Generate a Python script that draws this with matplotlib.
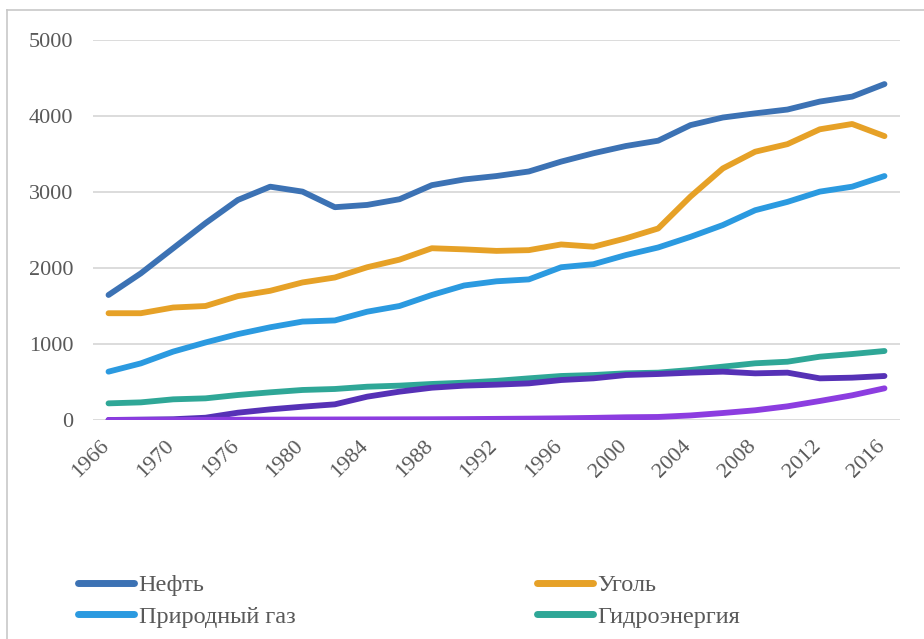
import matplotlib
matplotlib.use("Agg")
import matplotlib.pyplot as plt
from matplotlib.lines import Line2D
from matplotlib.transforms import ScaledTranslation

categories = ['1966', '1968', '1970', '1973', '1976', '1978', '1980', '1982', '1984',
              '1986', '1988', '1990', '1992', '1994', '1996', '1998', '2000', '2002',
              '2004', '2006', '2008', '2010', '2012', '2014', '2016']

oil = [1645, 1930, 2260, 2590, 2895, 3070, 3005, 2800, 2830, 2905, 3090, 3165, 3210,
       3270, 3400, 3510, 3605, 3675, 3880, 3980, 4035, 4085, 4190, 4255, 4420]
coal = [1405, 1405, 1480, 1500, 1630, 1700, 1810, 1875, 2010, 2110, 2260, 2245, 2225,
        2235, 2310, 2280, 2390, 2520, 2940, 3310, 3530, 3630, 3825, 3895, 3735]
gas = [636, 745, 900, 1020, 1130, 1220, 1295, 1310, 1425, 1500, 1645, 1770, 1825,
       1850, 2010, 2050, 2170, 2270, 2410, 2565, 2760, 2870, 3005, 3070, 3210]
hydro = [219, 232, 272, 285, 329, 364, 395, 408, 438, 452, 474, 491, 515,
         548, 579, 592, 614, 623, 658, 702, 746, 767, 833, 868, 908]
nuclear = [0, 5, 10, 30, 96, 140, 175, 206, 307, 373, 425, 452, 465,
           482, 526, 548, 592, 605, 623, 636, 614, 623, 548, 557, 579]
renew = [0, 0, 0, 2, 4, 5, 6, 7, 8, 9, 10, 12, 15,
         18, 22, 28, 36, 40, 60, 92, 128, 180, 250, 325, 417]

series = [
    ('Нефть', oil, '#3c72b4'),
    ('Уголь', coal, '#e6a127'),
    ('Природный газ', gas, '#2b9ae0'),
    ('Гидроэнергия', hydro, '#2fa797'),
    ('Атомная энергия', nuclear, '#5631b6'),
    ('Возобновляемые', renew, '#8c3de0'),
]

plt.rcParams['font.family'] = ['Liberation Serif', 'DejaVu Serif']

W, H = 924, 639
fig = plt.figure(figsize=(W / 100, H / 100), dpi=100)
ax = fig.add_axes([93 / W, 1 - 420 / H, (900 - 93) / W, (420 - 40) / H])

x = list(range(len(categories)))
for name, vals, col in series:
    ax.plot(x, vals, color=col, lw=4.2, solid_capstyle='round', solid_joinstyle='round',
            label=name, zorder=3)

ax.set_xlim(-0.48, len(categories) - 0.52)
ax.set_ylim(0, 5000)
ax.set_yticks(range(0, 5001, 1000))
ax.grid(axis='y', color='#d9d9d9', lw=1.3, zorder=0)
for s in ax.spines.values():
    s.set_visible(False)
ax.tick_params(axis='both', length=0, labelsize=16, labelcolor='#595959')
ax.tick_params(axis='y', pad=14)
ax.set_xticks(x[::2])
ax.set_xticklabels(categories[::2], rotation=45, ha='right', va='top')
ax.tick_params(axis='x', pad=12)
off = ScaledTranslation(5 / 100, 0, fig.dpi_scale_trans)
for lbl in ax.get_xticklabels():
    lbl.set_transform(lbl.get_transform() + off)

# figure frame (top and left)
fig.add_artist(Line2D([7 / W, 7 / W], [0, 1 - 10 / H], transform=fig.transFigure,
                      color='#c8c8c8', lw=1.2))
fig.add_artist(Line2D([7 / W, 1], [1 - 10 / H, 1 - 10 / H], transform=fig.transFigure,
                      color='#c8c8c8', lw=1.2))

handles = {name: Line2D([], [], color=col, lw=5, solid_capstyle='round')
           for name, vals, col in series}

def make_leg(names, xpx):
    leg = fig.legend([handles[n] for n in names], names, loc='upper left',
                     bbox_to_anchor=(xpx / W, 1 - 574 / H), frameon=False,
                     fontsize=17.5, handlelength=2.3, handletextpad=0.2,
                     borderpad=0, borderaxespad=0, labelspacing=0.4)
    for t in leg.get_texts():
        t.set_color('#595959')
    return leg

make_leg(['Нефть', 'Природный газ'], 78)
make_leg(['Уголь', 'Гидроэнергия'], 537)

fig.savefig('out.png', dpi=100, facecolor='white')
